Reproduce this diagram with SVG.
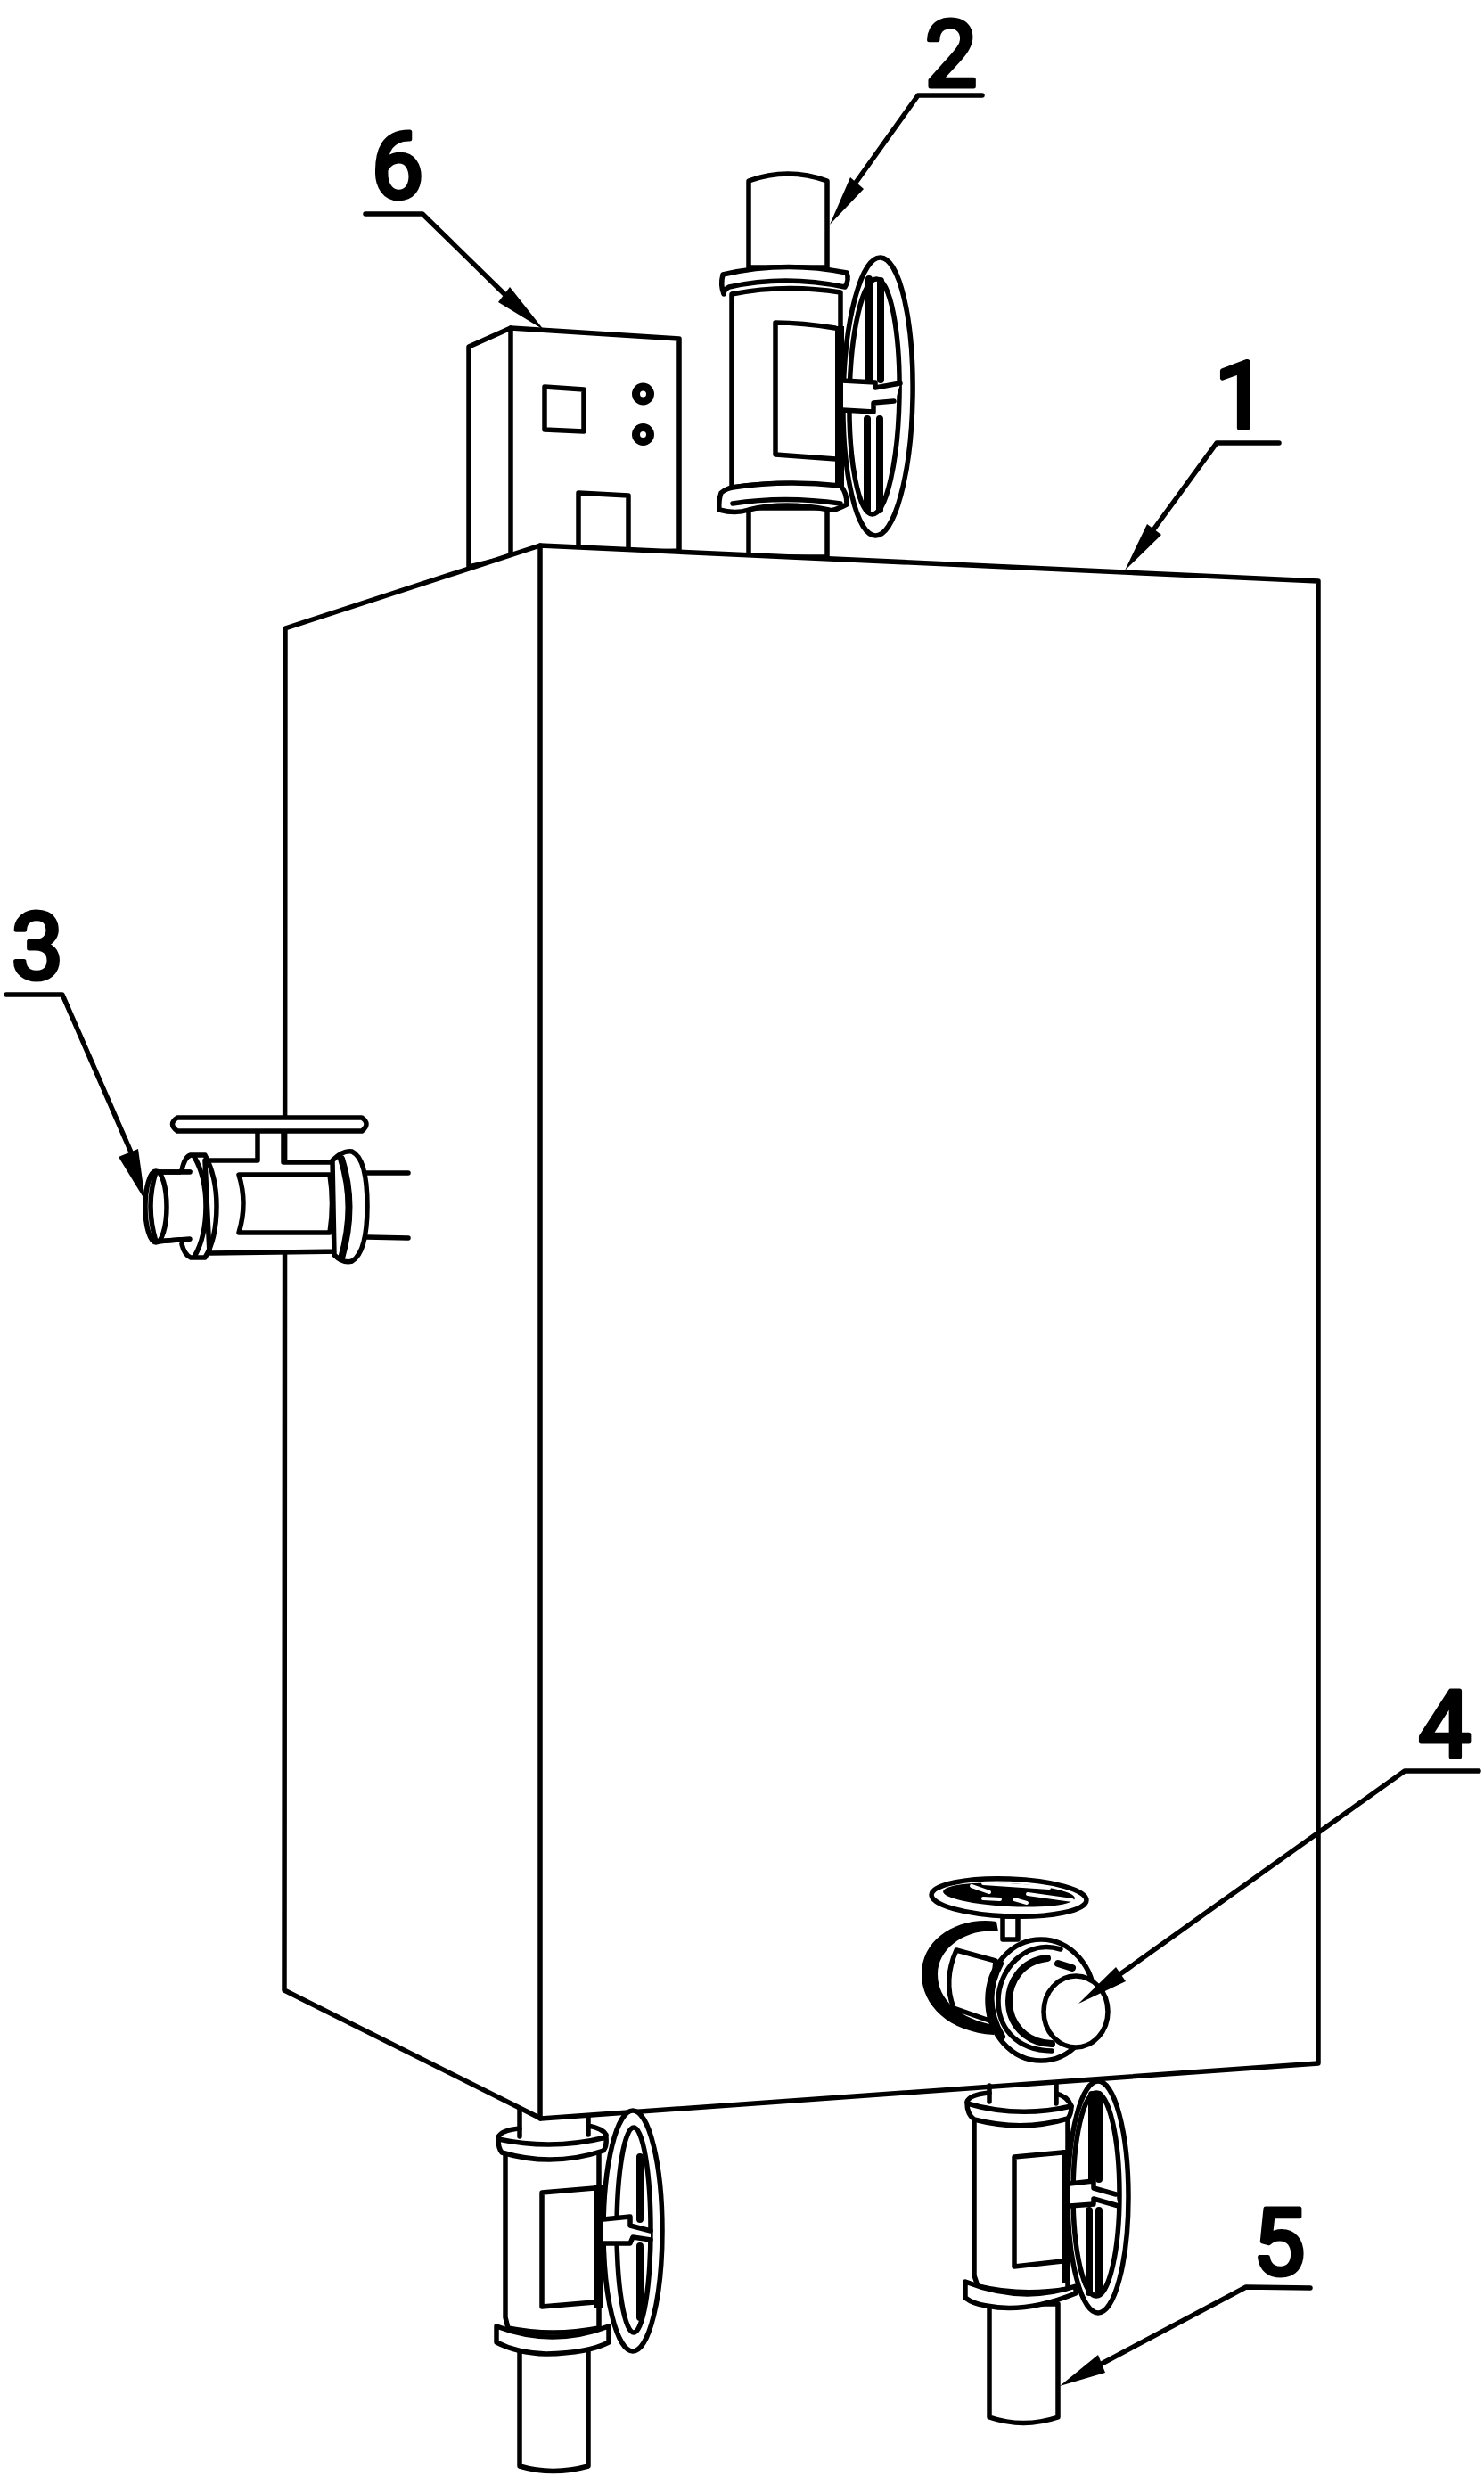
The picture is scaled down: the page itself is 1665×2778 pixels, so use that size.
<svg xmlns="http://www.w3.org/2000/svg" width="1665" height="2778" viewBox="0 0 1665 2778">
<style>
.l{fill:none;stroke:#000;stroke-width:5.5;stroke-linejoin:round;stroke-linecap:round}
.w{fill:#fff;stroke:#000;stroke-width:5.5;stroke-linejoin:round;stroke-linecap:round}
.b{fill:none;stroke:#000;stroke-width:8;stroke-linejoin:round;stroke-linecap:round}
.s{fill:none;stroke:#fff;stroke-width:4;stroke-linecap:round}
.f{fill:#fff;stroke:none}
.h{fill:#000;stroke:none}
.n{font-family:Roboto,"Liberation Sans",Arial,sans-serif;font-size:104px;fill:#000;text-anchor:middle;stroke:#000;stroke-width:5;stroke-linejoin:round}
</style>
<rect width="1665" height="2778" fill="#fff"/>
<g id="control-box">
<path class="w" d="M526 636V389L573 368L762 380V618L573 625L526 636Z"/>
<path class="l" d="M573 368V622"/>
<path class="l" d="M611 434L655 437V484L611 482Z"/>
<circle cx="721.5" cy="442" r="8" fill="#fff" stroke="#000" stroke-width="9"/>
<circle cx="721.5" cy="487.5" r="8" fill="#fff" stroke="#000" stroke-width="9"/>
<path class="l" d="M649 612V553L705 556V614"/>
</g>
<g id="valve-top">
<path class="w" d="M840 203Q884 187 928 203V300H840Z"/>
<path class="w" d="M840 570H928V625H840Z"/>
<ellipse class="w" cx="985" cy="445" rx="39" ry="156" transform="rotate(1 985 445)"/>
<ellipse class="l" cx="981" cy="445" rx="28" ry="132" transform="rotate(1 981 445)"/>
<path class="b" d="M975 313V426M988 315V426M973 470V572M987 470V572"/>
<path class="w" d="M821 330Q880 318 943 328V547Q880 538 821 547Z"/>
<path class="w" d="M811 308Q880 292 950 306Q953 314 948 322Q880 308 818 322Q812 325 812 330Q808 320 811 308Z"/>
<path class="w" d="M807 572Q806 562 809 553Q815 548 822 547Q880 538 943 545Q950 552 950 566Q935 574 930 572Q880 562 840 572Q825 577 807 572Z"/>
<path class="l" d="M822 565Q880 556 943 565"/>
<path class="l" d="M937 368Q900 362 870 362V510L938 515"/>
<path class="h" d="M937 366H947V546H937Z"/>
<path class="f" d="M946 428L982 429L982 435L1010 431L1004 451L982 454L980 461L946 460Z"/>
<path class="l" d="M945 427L982 429V435L1010 430M945 460L980 462V452L1003 450"/>
</g>
<g id="tank">
<path class="w" d="M606 612L1479 652V2315L607 2377L319 2233L320 705Z"/>
<path class="l" d="M606 612V2377"/>
</g>
<g id="valve-left">
<path class="w" d="M175 1315H213V1390L175 1393Q163 1353 175 1315Z"/>
<ellipse class="l" cx="175" cy="1354" rx="12" ry="40"/>
<path class="w" d="M230 1302H289V1268H318V1304H385V1404L235 1406Z"/>
<path class="f" d="M203 1315H225V1392H203Z"/>
<path class="l" d="M175 1315H213M175 1393L213 1390"/>
<path class="l" d="M204 1313Q207 1298 214 1296H230Q243 1320 243 1353Q243 1390 230 1411H214Q207 1408 204 1396"/>
<path class="l" d="M218 1298Q231 1320 231 1353Q231 1388 218 1410"/>
<path class="l" d="M268 1318H370Q375 1350 370 1383H268Q278 1350 268 1318Z"/>
<path class="w" d="M373 1302Q385 1290 395 1292Q412 1300 412 1353Q412 1405 395 1415Q385 1418 375 1408Z"/>
<path class="b" d="M383 1300Q400 1353 383 1412"/>
<path class="l" d="M411 1316H458M411 1388L458 1389"/>
<path class="w" d="M199 1254H406Q416 1261 406 1269H199Q188 1261 199 1254Z"/>
</g>
<g id="valve-outlet">
<ellipse class="w" cx="1232" cy="2465" rx="34" ry="130"/>
<ellipse class="l" cx="1230" cy="2462" rx="26" ry="114"/>
<path class="b" d="M1225 2350V2445M1233 2350V2445M1222 2480V2572M1233 2480V2572"/>
<path class="l" d="M1110 2340V2358M1185 2337V2360"/>
<path class="w" d="M1093 2375H1198V2568Q1147 2577 1097 2565L1093 2553Z"/>
<path class="l" d="M1085 2358Q1088 2350 1110 2348M1185 2349Q1198 2352 1202 2363"/>
<path class="w" d="M1085 2360Q1143 2377 1202 2363Q1202 2372 1198 2377Q1147 2392 1093 2378Q1085 2372 1085 2360Z"/>
<path class="w" d="M1110 2585H1187V2712Q1148 2725 1110 2712Z"/>
<path class="w" d="M1083 2560Q1147 2585 1207 2565V2573Q1150 2596 1107 2587Q1092 2585 1083 2578Z"/>
<path class="l" d="M1192 2415L1138 2420V2543L1192 2537"/>
<path class="h" d="M1191 2412H1201V2562H1191Z"/>
<path class="f" d="M1201 2450L1227 2447L1230 2455L1252 2462L1255 2475L1230 2467L1227 2473L1201 2475Z"/>
<path class="l" d="M1200 2450L1227 2447V2455L1252 2462M1200 2475L1227 2473V2467L1255 2475"/>
</g>
<g id="valve-bottom">
<path class="l" d="M583 2366V2397M660 2375V2395"/>
<ellipse class="w" cx="710" cy="2503" rx="33" ry="135"/>
<ellipse class="l" cx="711" cy="2502" rx="19" ry="115"/>
<path class="b" d="M718 2420V2490M718 2520V2600"/>
<path class="w" d="M567 2412H672V2612Q620 2622 570 2612L567 2600Z"/>
<path class="l" d="M559 2398Q562 2390 583 2388M660 2385Q676 2388 680 2395"/>
<path class="w" d="M559 2400Q620 2413 680 2398Q681 2408 677 2413Q620 2432 563 2415Q559 2410 559 2400Z"/>
<path class="w" d="M583 2632H660V2767Q620 2778 583 2767Z"/>
<path class="w" d="M557 2610Q620 2634 683 2610V2628Q660 2640 613 2641Q580 2640 557 2628Z"/>
<path class="l" d="M667 2455L608 2460V2588L667 2583"/>
<path class="h" d="M666 2452H677V2590H666Z"/>
<path class="f" d="M677 2490L707 2487L707 2497L730 2503L730 2513L710 2510L707 2517L677 2517Z"/>
<path class="l" d="M677 2490L707 2487V2497L730 2503M677 2517L707 2517L710 2510L730 2513"/>
</g>
<g id="valve-front">
<path class="h" d="M1118 2156C1075 2150 1034 2175 1034 2215C1034 2250 1065 2280 1115 2283L1115 2272C1078 2265 1052 2245 1052 2215C1052 2185 1085 2163 1120 2167Z"/>
<path class="l" d="M1073 2188L1117 2200L1110 2267L1070 2253Q1058 2222 1073 2188Z"/>
<path class="w" d="M1125 2150V2176H1142V2150Z"/>
<ellipse class="w" cx="1132" cy="2129" rx="87" ry="21" transform="rotate(2 1132 2129)"/>
<ellipse class="h" cx="1132" cy="2126" rx="74" ry="13" transform="rotate(3 1132 2126)"/>
<path class="s" d="M1090 2116L1110 2123M1103 2113L1177 2118M1103 2130L1122 2131M1138 2131L1152 2135M1153 2125L1203 2132"/>
<ellipse class="w" cx="1168" cy="2244" rx="60" ry="68"/>
<path class="b" d="M1122 2203Q1100 2244 1124 2285" stroke-width="12"/>
<path class="l" d="M1190 2187C1150 2175 1120 2210 1120 2245C1120 2270 1135 2300 1180 2301"/>
<path class="b" d="M1175 2197C1145 2200 1132 2225 1132 2245C1132 2270 1150 2292 1180 2293" stroke-width="6"/>
<path class="b" d="M1187 2203L1203 2208"/>
<ellipse class="w" cx="1207" cy="2257" rx="36" ry="40"/>
</g>
<g id="connectors">
<path class="l" d="M1435 497H1365L1290 600"/>
<path class="h" d="M1262 640L1287 588L1303 600Z"/>
<path class="l" d="M1102 107H1030L960 205"/>
<path class="h" d="M931 252L954 199L969 212Z"/>
<path class="l" d="M410 240H474L566 330"/>
<path class="h" d="M610 370L559 339L572 322Z"/>
<path class="l" d="M7 1116H70L148 1295"/>
<path class="h" d="M163 1347L133 1298L155 1289Z"/>
<path class="l" d="M1659 1987H1576L1258 2214"/>
<path class="h" d="M1210 2248L1252 2207L1263 2223Z"/>
<path class="l" d="M1470 2567L1398 2566L1236 2652"/>
<path class="h" d="M1189 2677L1232 2642L1240 2662Z"/>
</g>
<g id="labels">
<text class="n" x="1392" y="480">1</text>
<text class="n" x="1067" y="97">2</text>
<text class="n" x="42" y="1098">3</text>
<text class="n" x="1621" y="1971">4</text>
<text class="n" x="1435" y="2552">5</text>
<text class="n" x="446" y="222">6</text>
</g>
</svg>
